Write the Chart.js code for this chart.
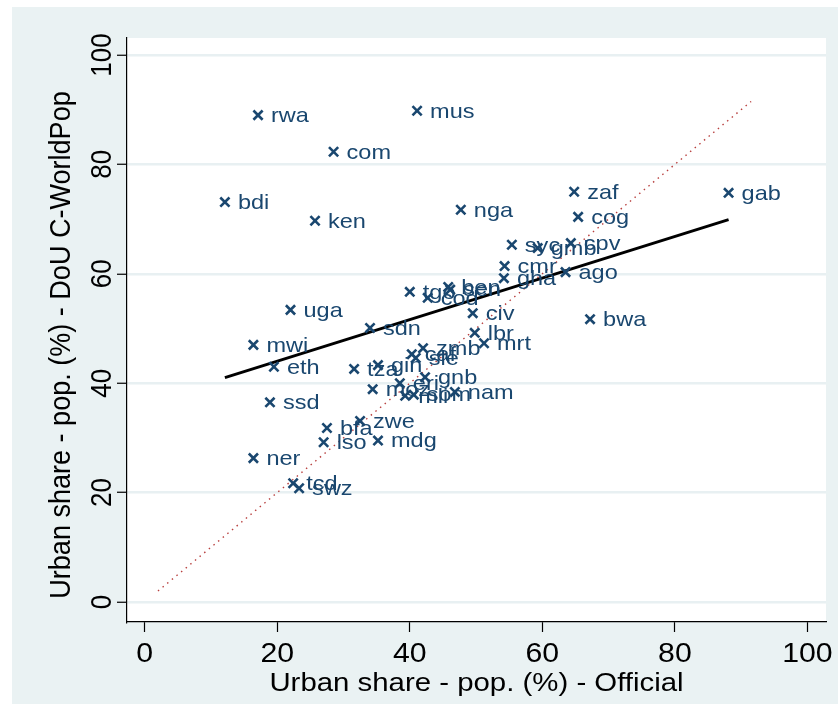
<!DOCTYPE html>
<html>
<head>
<meta charset="utf-8">
<script src="https://cdn.jsdelivr.net/npm/chart.js@4.4.0/dist/chart.umd.min.js"></script>
<style>
  html, body { margin: 0; padding: 0; background: #fff; }
  canvas { display: block; }
</style>
</head>
<body>
<canvas id="urbanChart" width="838" height="704"></canvas>
<script>
// country codes with official urban share (x) and DoU C-WorldPop urban share (y)
const codes = ['rwa', 'mus', 'com', 'bdi', 'ken', 'nga', 'zaf', 'cog', 'gab', 'syc',
    'gmb', 'cpv', 'cmr', 'gha', 'ago', 'bwa', 'uga', 'tgo', 'ben', 'sen',
    'cod', 'civ', 'sdn', 'lbr', 'mrt', 'zmb', 'caf', 'sle', 'mwi', 'eth',
    'tza', 'gin', 'gnb', 'eri', 'moz', 'mli', 'som', 'nam', 'ssd', 'zwe',
    'bfa', 'lso', 'mdg', 'ner', 'tcd', 'swz'];
const official = [17.1, 41.1, 28.5, 12.1, 25.7, 47.7, 64.8, 65.4, 88.1, 55.4,
    59.3, 64.3, 54.3, 54.2, 63.5, 67.2, 22.0, 40.0, 45.8, 46.1,
    42.7, 49.5, 34.0, 49.8, 51.2, 42.0, 40.3, 40.9, 16.4, 19.5,
    31.6, 35.2, 42.3, 38.5, 34.4, 39.3, 40.6, 46.8, 18.9, 32.5,
    27.5, 27.0, 35.2, 16.4, 22.4, 23.3];
const worldpop = [89.0, 89.8, 82.3, 73.1, 69.7, 71.7, 75.0, 70.4, 74.8, 65.3,
    64.7, 65.6, 61.4, 59.2, 60.3, 51.7, 53.4, 56.7, 57.6, 57.1,
    55.6, 52.8, 50.1, 49.2, 47.3, 46.4, 45.3, 44.6, 47.0, 43.0,
    42.6, 43.3, 41.1, 40.0, 38.9, 37.7, 37.9, 38.4, 36.5, 33.1,
    31.8, 29.2, 29.5, 26.3, 21.7, 20.8];

// fitted line and 45 degree line end points
const fitX = [12.1, 88.1];
const fitY = [41.0, 69.9];
const diagX = [2, 91.5];
const diagY = [2, 91.5];

const xTicks = [0, 20, 40, 60, 80, 100];
const yTicks = [0, 20, 40, 60, 80, 100];
const xTitle = 'Urban share - pop. (%) - Official';
const yTitle = 'Urban share - pop. (%) - DoU C-WorldPop';

const navy = '#1a476f';
const FONT = '"Liberation Sans", Arial, sans-serif';

function drawText(ctx, txt, x, y, opts) {
    ctx.save();
    ctx.translate(x, y);
    if (opts.rotate) ctx.rotate(opts.rotate);
    ctx.scale(opts.sx || 1, opts.sy || 1);
    ctx.font = opts.font;
    ctx.fillStyle = opts.color || '#000';
    ctx.textAlign = opts.align || 'center';
    ctx.textBaseline = 'middle';
    ctx.fillText(txt, 0, 0);
    ctx.restore();
}

const backdrop = {
    id: 'backdrop',
    beforeDraw(chart) {
        const ctx = chart.ctx;
        const a = chart.chartArea;
        ctx.save();
        ctx.fillStyle = '#ffffff';
        ctx.fillRect(0, 0, chart.width, chart.height);
        ctx.fillStyle = '#eaf2f3';
        ctx.fillRect(12, 7, chart.width - 12, chart.height - 7);
        ctx.fillStyle = '#ffffff';
        ctx.fillRect(a.left, a.top, a.right - a.left, a.bottom - a.top);
        ctx.restore();
    }
};

const texts = {
    id: 'texts',
    afterDraw(chart) {
        const ctx = chart.ctx;
        const a = chart.chartArea;
        const xs = chart.scales.x;
        const ys = chart.scales.y;

        // point labels, to the right of each marker
        const meta = chart.getDatasetMeta(0);
        meta.data.forEach((pt, i) => {
            drawText(ctx, codes[i], pt.x + 13, pt.y + 1,
                { font: '21px ' + FONT, color: navy, align: 'left', sx: 1.12 });
        });

        // axis tick labels
        xTicks.forEach(v => {
            drawText(ctx, String(v), xs.getPixelForValue(v), a.bottom + 33,
                { font: '27px ' + FONT, sx: 1.12 });
        });
        yTicks.forEach(v => {
            drawText(ctx, String(v), a.left - 24, ys.getPixelForValue(v),
                { font: '26px ' + FONT, rotate: -Math.PI / 2, sy: 1.12 });
        });

        // axis titles
        drawText(ctx, xTitle, (a.left + a.right) / 2, a.bottom + 62,
            { font: '26px ' + FONT, sx: 1.13 });
        drawText(ctx, yTitle, 62, 345,
            { font: '26px ' + FONT, rotate: -Math.PI / 2, sx: 1.04, sy: 1.12 });
    }
};

const ctx = document.getElementById('urbanChart').getContext('2d');
new Chart(ctx, {
    type: 'scatter',
    data: {
        datasets: [{
            label: 'countries',
            data: codes.map((c, i) => ({ x: official[i], y: worldpop[i] })),
            pointStyle: 'crossRot',
            pointRadius: 6.5,
            pointHoverRadius: 6.5,
            borderColor: navy,
            backgroundColor: navy,
            borderWidth: 2.6,
            showLine: false
        }, {
            label: 'fit',
            type: 'line',
            data: fitX.map((x, i) => ({ x: x, y: fitY[i] })),
            borderColor: '#000000',
            borderWidth: 2.8,
            pointRadius: 0,
            fill: false
        }, {
            label: '45 degree',
            type: 'line',
            data: diagX.map((x, i) => ({ x: x, y: diagY[i] })),
            borderColor: '#b8403f',
            borderWidth: 1.4,
            borderDash: [1.5, 4.5],
            pointRadius: 0,
            fill: false
        }]
    },
    options: {
        responsive: false,
        animation: false,
        devicePixelRatio: 1,
        layout: { padding: { top: 38, right: 12, left: 0, bottom: 0 } },
        plugins: {
            legend: { display: false },
            tooltip: { enabled: false }
        },
        scales: {
            x: {
                type: 'linear',
                min: -2.67,
                max: 102.8,
                afterBuildTicks: s => { s.ticks = xTicks.map(v => ({ value: v })); },
                afterFit: s => { s.height = 82; },
                ticks: { display: false },
                grid: {
                    drawOnChartArea: false,
                    drawTicks: true,
                    tickLength: 10,
                    tickColor: '#000',
                    tickWidth: 1.2
                },
                border: { display: true, color: '#000', width: 1.2 }
            },
            y: {
                type: 'linear',
                min: -3.66,
                max: 103.1,
                afterBuildTicks: s => { s.ticks = yTicks.map(v => ({ value: v })); },
                afterFit: s => { s.width = 127; },
                ticks: { display: false },
                grid: {
                    color: '#e8f0f2',
                    lineWidth: 2.5,
                    drawTicks: true,
                    tickLength: 10,
                    tickColor: '#000',
                    tickWidth: 1.2
                },
                border: { display: true, color: '#000', width: 1.2 }
            }
        }
    },
    plugins: [backdrop, texts]
});
</script>
</body>
</html>
